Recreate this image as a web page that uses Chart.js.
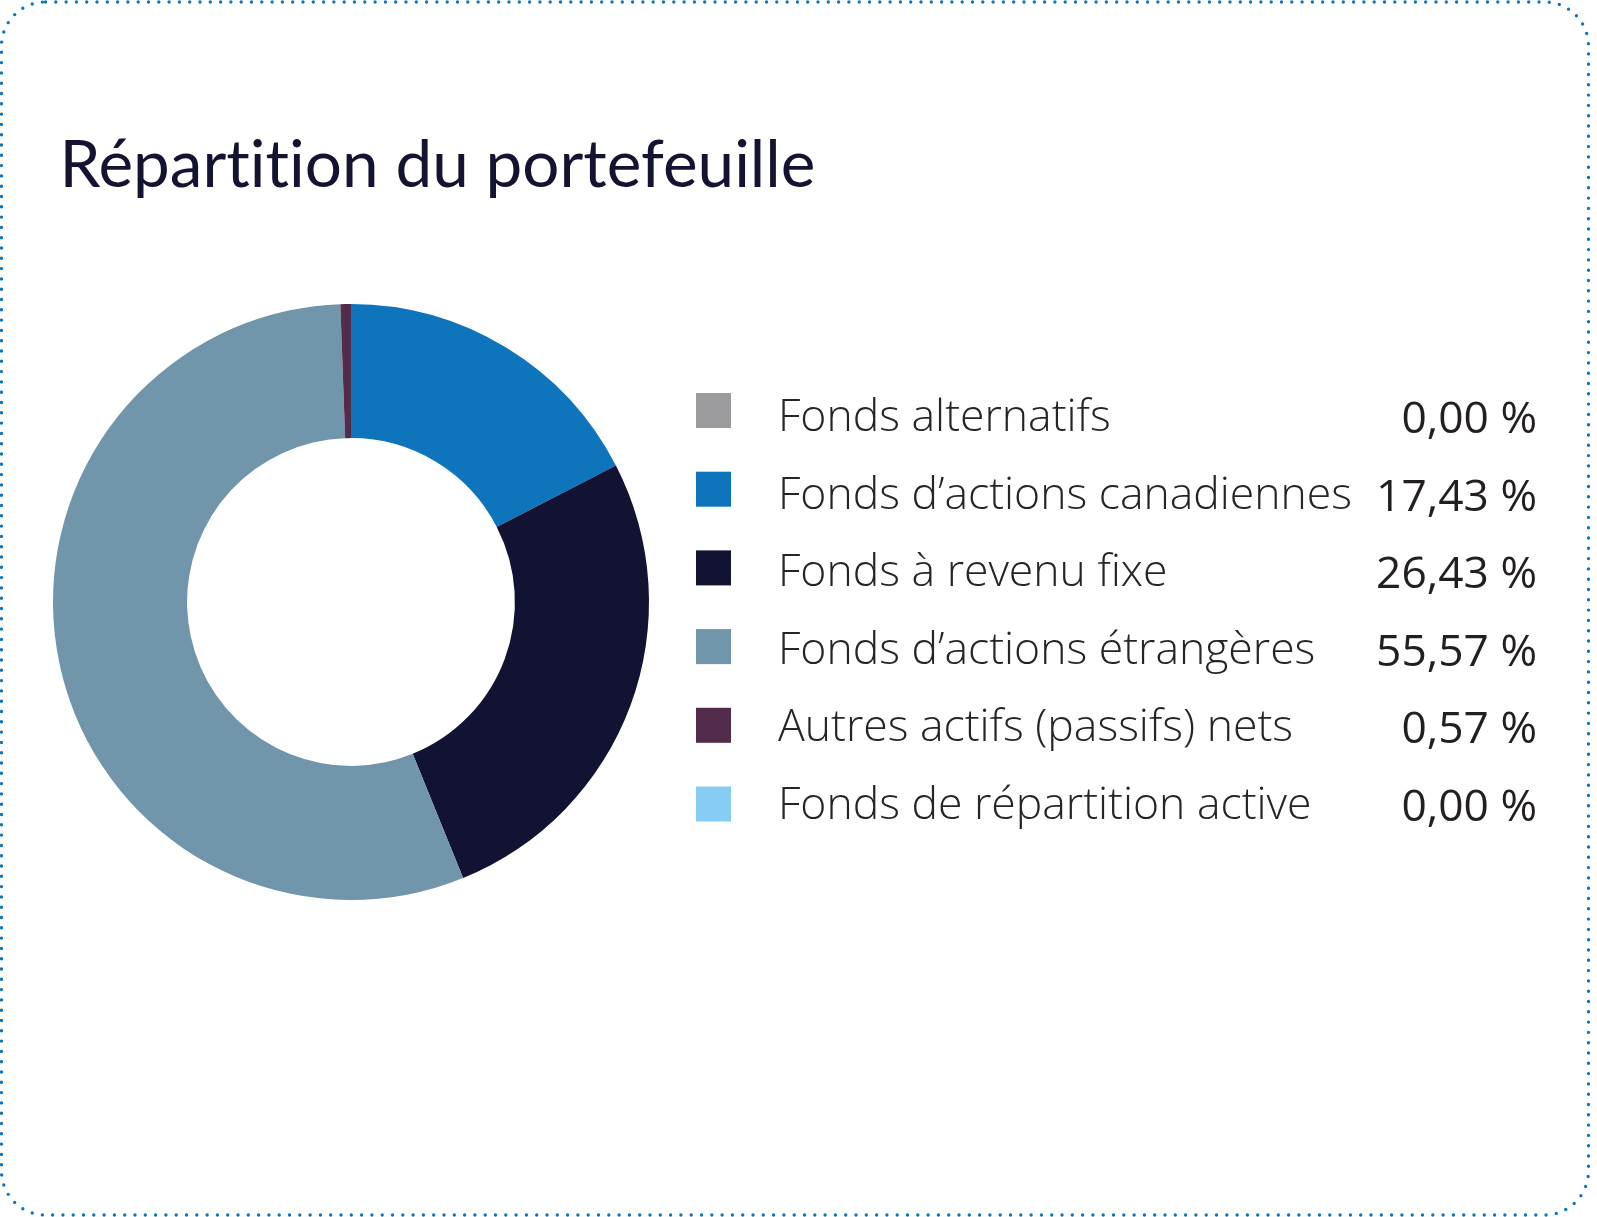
<!DOCTYPE html>
<html lang="fr">
<head>
<meta charset="utf-8">
<script src="https://cdn.jsdelivr.net/npm/chart.js@4.4.1/dist/chart.umd.min.js"></script>
<style>
  html, body { margin: 0; padding: 0; background: #ffffff; }
  #wrap { position: relative; width: 1597px; height: 1217px; }
  #c { display: block; position: absolute; left: 0; top: 0; }
  #title {
    position: absolute; left: 59.5px; top: 129.1px; margin: 0;
    font: 400 65.6px/65px Lato, sans-serif; color: #141331;
    font-variant-ligatures: none; font-feature-settings: "liga" 0, "clig" 0;
    white-space: nowrap; z-index: 2;
  }
</style>
</head>
<body>
<div id="wrap">
<canvas id="c" width="1597" height="1217" style="width:1597px;height:1217px"></canvas>
<h1 id="title"></h1>
</div>
<script>
const title = 'Répartition du portefeuille';
const categories = [
  'Fonds alternatifs',
  'Fonds d’actions canadiennes',
  'Fonds à revenu fixe',
  'Fonds d’actions étrangères',
  'Autres actifs (passifs) nets',
  'Fonds de répartition active'
];
const values = [0.00, 17.43, 26.43, 55.57, 0.57, 0.00];
const colors = ['#9b9b9d', '#0e75bd', '#121233', '#7195aa', '#532c4b', '#87cdf3'];

document.getElementById('title').textContent = title;

const fmt = v => v.toFixed(2).replace('.', ',') + ' %';

const overlay = {
  id: 'overlay',
  afterDraw(chart) {
    const ctx = chart.ctx;
    ctx.save();
    // dotted rounded border
    ctx.strokeStyle = '#0e75bd';
    ctx.lineWidth = 3.4;
    ctx.lineCap = 'round';
    ctx.setLineDash([0, 10.3]);
    ctx.beginPath();
    ctx.roundRect(1.5, 2, 1587, 1213, 44);
    ctx.stroke();
    ctx.setLineDash([]);

    // legend
    ctx.textBaseline = 'alphabetic';
    const x0 = 696, sq = 35, top0 = 410.5, step = 78.7, textStep = 77.6;
    categories.forEach((lab, i) => {
      const cy = top0 + i * step;
      ctx.fillStyle = colors[i];
      ctx.fillRect(x0, cy - sq / 2, sq, sq);
      ctx.fillStyle = '#252525';
      ctx.font = '300 44.5px "Open Sans"';
      ctx.textAlign = 'left';
      ctx.fillText(lab, 778, 431 + i * textStep);
      ctx.fillStyle = '#231f20';
      ctx.font = '400 44.3px "Open Sans"';
      ctx.textAlign = 'right';
      ctx.fillText(fmt(values[i]), 1537, 433 + i * textStep);
    });
    ctx.restore();
  }
};

new Chart(document.getElementById('c'), {
  type: 'doughnut',
  data: {
    labels: categories,
    datasets: [{
      data: values,
      backgroundColor: colors,
      borderWidth: 0,
      hoverOffset: 0
    }]
  },
  options: {
    responsive: false,
    animation: false,
    devicePixelRatio: 1,
    cutout: '55%',
    rotation: 0,
    layout: { padding: { left: 53, top: 304, right: 948, bottom: 317 } },
    plugins: {
      legend: { display: false },
      tooltip: { enabled: false },
      title: { display: false }
    },
    events: []
  },
  plugins: [overlay]
});
</script>
</body>
</html>
